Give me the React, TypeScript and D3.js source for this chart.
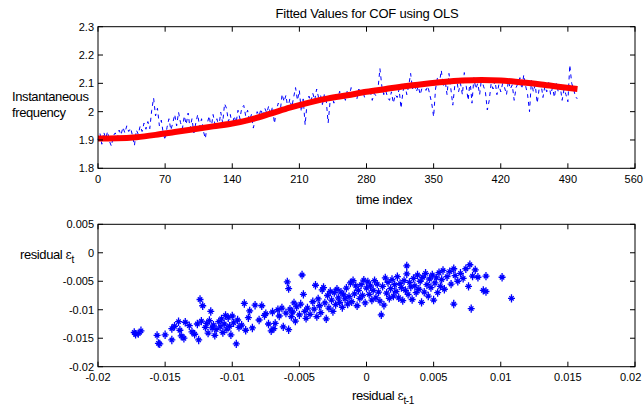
import React from "react";
import * as d3 from "d3";

// ---------- data ----------
const blueStart = 0;
const blueStep = 2;
const blueValues: number[] = [
  1.900, 1.925, 1.885, 1.928, 1.905, 1.930, 1.895, 1.878, 1.915, 1.925,
  1.905, 1.935, 1.918, 1.945, 1.925, 1.950, 1.930, 1.942, 1.915, 1.880,
  1.935, 1.920, 1.950, 1.930, 1.960, 1.938, 1.965, 1.940, 2.005, 2.048,
  1.985, 2.012, 1.950, 1.970, 1.925, 1.900, 1.945, 1.975, 1.935, 1.960,
  1.990, 1.950, 1.998, 1.962, 1.940, 1.985, 1.955, 1.995, 1.940, 1.975,
  1.925, 1.960, 1.990, 1.945, 1.975, 1.930, 1.905, 1.960, 1.985, 1.940,
  1.990, 1.955, 1.975, 1.945, 1.998, 1.960, 2.028, 2.012, 1.965, 1.990,
  1.950, 1.985, 1.960, 2.005, 1.975, 2.015, 2.022, 1.985, 2.005, 1.968,
  1.990, 1.942, 1.975, 2.000, 1.985, 2.010, 1.980, 2.012, 1.995, 2.020,
  1.990, 2.018, 1.958, 2.005, 2.030, 2.000, 2.062, 2.035, 2.058, 2.010,
  2.045, 2.015, 2.050, 2.085, 2.040, 2.075, 2.000, 2.045, 1.953, 2.030,
  2.055, 2.035, 2.065, 2.040, 2.080, 2.050, 2.060, 2.025, 2.060, 2.040,
  1.960, 2.035, 2.055, 2.030, 2.065, 2.045, 2.072, 2.050, 2.060, 2.040,
  2.075, 2.055, 2.085, 2.050, 2.065, 2.045, 2.080, 2.060, 2.075, 2.050,
  2.085, 2.060, 2.070, 2.040, 2.065, 2.055, 2.080, 2.152, 2.090, 2.060,
  2.075, 2.050, 2.040, 2.070, 2.030, 2.060, 2.050, 2.080, 2.012, 2.070,
  2.100, 2.060, 2.090, 2.135, 2.080, 2.100, 2.070, 2.090, 2.060, 2.085,
  2.100, 2.075, 2.090, 2.060, 2.030, 1.982, 2.080, 2.120, 2.100, 2.146,
  2.090, 2.110, 2.060, 2.135, 2.080, 2.023, 2.090, 2.115, 2.070, 2.100,
  2.060, 2.138, 2.090, 2.040, 2.110, 2.030, 2.120, 2.080, 2.100, 2.060,
  2.120, 2.090, 2.070, 2.006, 2.040, 2.100, 2.080, 2.110, 2.060, 2.095,
  2.070, 2.100, 2.085, 2.060, 2.110, 2.080, 2.095, 2.040, 2.085, 2.100,
  2.120, 2.080, 2.130, 2.090, 2.060, 2.000, 2.110, 2.070, 2.095, 2.030,
  2.080, 2.100, 2.050, 2.090, 2.070, 2.110, 2.060, 2.085, 2.050, 2.100,
  2.070, 2.090, 2.040, 2.080, 2.060, 2.035, 2.165, 2.100, 2.080, 2.050,
  2.047,
];

const fitTimes: number[] = [0, 20, 40, 60, 80, 100, 120, 140, 160, 180, 200, 220, 240, 260, 280, 300, 320, 340, 360, 380, 400, 420, 440, 460, 480, 500];
const fitValues: number[] = [1.905, 1.906, 1.91, 1.918, 1.928, 1.938, 1.948, 1.958, 1.973, 1.993, 2.014, 2.032, 2.047, 2.058, 2.07, 2.08, 2.09, 2.098, 2.105, 2.11, 2.112, 2.11, 2.104, 2.097, 2.088, 2.08];

// residual pairs (e_{t-1}, e_t), in units of 1e-3
const residPrevMilli: number[] = [
  -17.3, -17.0, -16.8, -17.2, -15.6, -15.5, -15.4, -15.0, -14.5, -14.5, -14.3, -14.0, -13.9, -13.8, -13.6, -13.5,
  -13.2, -13.0, -12.8, -12.6, -12.5, -12.4, -12.2, -12.3, -12.0, -11.9, -11.8, -11.7, -11.6, -11.5, -11.4, -11.3,
  -11.2, -11.0, -10.9, -10.8, -10.7, -10.6, -10.5, -10.4, -10.3, -10.2, -10.1, -10.0, -9.9, -9.7, -9.6, -9.5,
  -9.3, -9.1, -9.0, -8.8, -8.7, -8.5, -8.3, -8.0, -7.8, -7.6, -7.5, -7.3, -7.1, -7.0, -6.9, -6.8,
  -6.6, -6.5, -6.3, -6.2, -6.0, -5.9, -5.8, -5.8, -5.7, -5.6, -5.5, -5.4, -5.3, -5.2, -5.0, -4.9,
  -4.8, -4.7, -4.6, -4.5, -4.4, -4.2, -4.0, -3.9, -3.8, -3.7, -3.6, -3.5, -3.4, -3.3, -3.2, -3.1,
  -3.0, -2.9, -2.8, -2.7, -2.6, -2.5, -2.4, -2.3, -2.2, -2.1, -2.0, -1.9, -1.8, -1.7, -1.6, -1.5,
  -1.4, -1.3, -1.2, -1.1, -1.0, -0.9, -0.8, -0.7, -0.6, -0.5, -0.4, -0.3, -0.2, -0.1, 0.0, 0.1,
  0.2, 0.3, 0.4, 0.5, 0.6, 0.7, 0.8, 0.9, 1.0, 1.1, 1.2, 1.3, 1.4, 1.5, 1.6, 1.7,
  1.8, 1.9, 2.0, 2.1, 2.2, 2.3, 2.4, 2.5, 2.6, 2.7, 2.8, 2.9, 3.0, 3.0, 3.1, 3.2,
  3.3, 3.4, 3.5, 3.6, 3.7, 3.8, 3.9, 4.0, 4.1, 4.2, 4.3, 4.4, 4.5, 4.6, 4.7, 4.8,
  4.9, 5.0, 5.1, 5.2, 5.3, 5.4, 5.5, 5.6, 5.7, 5.8, 6.0, 6.2, 6.3, 6.5, 6.5, 6.6,
  6.8, 7.0, 7.2, 7.4, 7.6, 7.7, 7.8, 7.9, 8.1, 8.3, 8.7, 8.9, 8.9, 10.1, 10.8,
];
const residCurrMilli: number[] = [
  -14.0, -14.2, -13.7, -14.3, -14.5, -15.9, -16.0, -14.4, -15.3, -13.3, -12.9, -12.1, -13.6, -14.6, -15.0, -12.2,
  -12.8, -13.9, -14.3, -12.5, -15.3, -8.2, -9.3, -12.0, -13.1, -12.4, -14.1, -11.9, -10.3, -13.2, -12.7, -14.5,
  -13.5, -12.1, -13.0, -11.6, -14.0, -12.5, -11.0, -13.4, -11.4, -12.9, -14.4, -11.1, -12.3, -16.0, -11.8, -13.1,
  -12.7, -8.9, -13.6, -11.4, -10.2, -13.2, -9.2, -11.8, -9.3, -11.0, -10.7, -12.5, -13.7, -10.4, -13.3, -12.4,
  -10.0, -11.1, -9.7, -13.0, -10.6, -5.1, -6.3, -13.5, -9.9, -11.2, -10.4, -8.8, -12.0, -9.5, -10.9, -9.0,
  -3.9, -7.3, -10.3, -11.5, -9.7, -10.8, -8.6, -9.9, -5.7, -11.2, -8.1, -9.3, -10.5, -6.5, -6.1, -8.8,
  -11.6, -7.5, -9.7, -6.8, -8.3, -10.3, -7.0, -9.1, -6.4, -7.9, -8.7, -6.9, -9.6, -7.4, -8.1, -6.2,
  -9.0, -7.7, -5.3, -8.6, -4.9, -7.2, -5.8, -9.3, -6.6, -8.0, -5.6, -7.5, -4.8, -8.8, -6.2, -5.1,
  -7.3, -5.8, -8.3, -6.6, -4.9, -7.9, -5.5, -6.9, -8.5, -10.9, -5.9, -9.2, -4.4, -7.1, -5.2, -8.0,
  -6.3, -4.7, -7.6, -5.6, -6.8, -4.2, -7.9, -5.4, -6.1, -8.4, -4.9, -6.6, -2.3, -3.7, -7.3, -5.2,
  -6.0, -8.2, -4.5, -5.8, -7.0, -3.9, -6.4, -5.0, -8.7, -4.3, -6.9, -3.6, -5.6, -7.6, -4.6, -6.1,
  -3.9, -8.3, -5.3, -4.4, -7.0, -3.5, -5.9, -4.7, -3.1, -6.4, -4.2, -3.3, -5.5, -2.8, -9.0, -4.0,
  -5.0, -3.6, -4.5, -2.8, -5.9, -2.1, -9.8, -4.1, -3.0, -4.3, -6.6, -4.1, -6.8, -4.3, -8.0,
];

const topXTicks = [0, 70, 140, 210, 280, 350, 420, 490, 560];
const topYTicks = [1.8, 1.9, 2.0, 2.1, 2.2, 2.3];
const botXTicks = [-0.02, -0.015, -0.01, -0.005, 0, 0.005, 0.01, 0.015, 0.02];
const botYTicks = [-0.02, -0.015, -0.01, -0.005, 0, 0.005];

const FONT = "'Liberation Sans', Arial, sans-serif";

function fmt(v: number) {
  return String(Math.round(v * 1e6) / 1e6);
}

function Frame({ x0, x1, y0, y1, xScale, yScale, xTicks, yTicks, labelDy }: any) {
  const tl = 5;
  return (
    <g>
      <rect x={x0} y={y0} width={x1 - x0} height={y1 - y0} fill="none" stroke="#000" strokeWidth={1} />
      {xTicks.map((t: number, i: number) => {
        const x = xScale(t);
        const label = fmt(t);
        const halfW = label.length * 3.1;
        const lx = Math.min(x, 643 - halfW);
        return (
          <g key={"xt" + i}>
            <line x1={x} x2={x} y1={y1} y2={y1 - tl} stroke="#000" />
            <line x1={x} x2={x} y1={y0} y2={y0 + tl} stroke="#000" />
            <text x={lx} y={y1 + labelDy} textAnchor="middle" fontSize={11} fontFamily={FONT} fill="#000">
              {label}
            </text>
          </g>
        );
      })}
      {yTicks.map((t: number, i: number) => {
        const y = yScale(t);
        return (
          <g key={"yt" + i}>
            <line x1={x0} x2={x0 + tl} y1={y} y2={y} stroke="#000" />
            <line x1={x1} x2={x1 - tl} y1={y} y2={y} stroke="#000" />
            <text x={x0 - 4} y={y + 4} textAnchor="end" fontSize={11} fontFamily={FONT} fill="#000">
              {fmt(t)}
            </text>
          </g>
        );
      })}
    </g>
  );
}

export default function App() {
  const L = 98, R = 635;
  // top panel
  const tx = d3.scaleLinear().domain([0, 560]).range([L, R]);
  const ty = d3.scaleLinear().domain([1.8, 2.3]).range([168.3, 26.7]);
  // bottom panel
  const bx = d3.scaleLinear().domain([-0.02, 0.02]).range([L, R]);
  const by = d3.scaleLinear().domain([-0.02, 0.005]).range([366.7, 224.3]);

  const bluePts = blueValues.map((v, i) => [blueStart + i * blueStep, v] as [number, number]);
  const bluePath = d3.line<[number, number]>().x((d) => tx(d[0])).y((d) => ty(d[1]))(bluePts) || "";
  const fitPts = fitTimes.map((t, i) => [t, fitValues[i]] as [number, number]);
  const fitPath = d3
    .line<[number, number]>()
    .x((d) => tx(d[0]))
    .y((d) => ty(d[1]))
    .curve(d3.curveMonotoneX)(fitPts) || "";

  const scatter = residPrevMilli.map((x, i) => [x / 1000, residCurrMilli[i] / 1000]);
  const star = "M-3.5,0H3.5M0,-4.2V4.2M-2.2,-2.2L2.2,2.2M-2.2,2.2L2.2,-2.2";

  return (
    <svg width={644} height={409} style={{ position: "absolute", left: 0, top: 0, background: "#fff" }}>
      <rect x={0} y={0} width={644} height={409} fill="#fff" />
      {/* top panel */}
      <text x={367} y={18} textAnchor="middle" fontSize={13} fontFamily={FONT} fill="#000" letterSpacing={-0.2}>
        Fitted Values for COF using OLS
      </text>
      <g>
        <path d={bluePath} fill="none" stroke="#0000ff" strokeWidth={1} strokeDasharray="4,4" />
        <path d={fitPath} fill="none" stroke="#ff0000" strokeWidth={6} />
      </g>
      <Frame x0={L} x1={R} y0={ty(2.3)} y1={ty(1.8)} xScale={tx} yScale={ty} xTicks={topXTicks} yTicks={topYTicks} labelDy={15} />
      <text x={384} y={204} textAnchor="middle" fontSize={13} fontFamily={FONT} fill="#000" letterSpacing={-0.3}>
        time index
      </text>
      <text x={12} y={101} fontSize={13} fontFamily={FONT} fill="#000" letterSpacing={-0.4}>
        Instantaneous
      </text>
      <text x={12} y={117} fontSize={13} fontFamily={FONT} fill="#000" letterSpacing={-0.4}>
        frequency
      </text>

      {/* bottom panel */}
      <g>
        {scatter.map((d, i) => (
          <path key={i} d={star} transform={`translate(${bx(d[0])},${by(d[1])})`} fill="none" stroke="#0000ff" strokeWidth={1.3} />
        ))}
      </g>
      <Frame x0={L} x1={R} y0={by(0.005)} y1={by(-0.02)} xScale={bx} yScale={by} xTicks={botXTicks} yTicks={botYTicks} labelDy={14} />
      <text x={20} y={259} fontSize={13} fontFamily={FONT} fill="#000" letterSpacing={-0.4}>
        residual <tspan fontSize={12} fontFamily="'DejaVu Serif', serif">ε</tspan>
        <tspan fontSize={10} dy={4}>t</tspan>
      </text>
      <text x={352} y={400} fontSize={13} fontFamily={FONT} fill="#000" letterSpacing={-0.4}>
        residual <tspan fontSize={12} fontFamily="'DejaVu Serif', serif">ε</tspan>
        <tspan fontSize={10} dy={4}>t-1</tspan>
      </text>
    </svg>
  );
}
